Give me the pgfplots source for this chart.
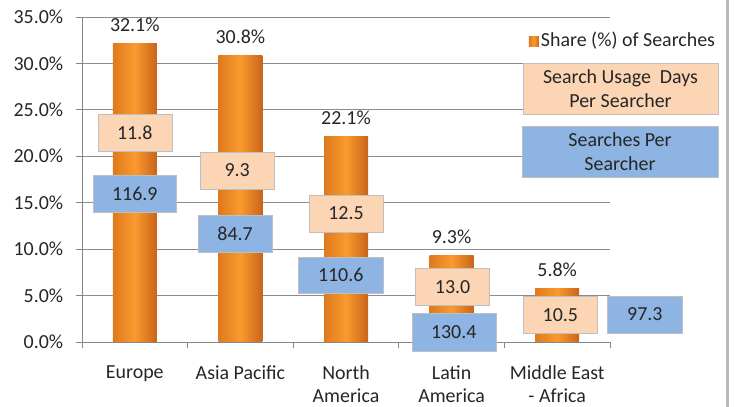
\documentclass[border=0pt]{standalone}
\usepackage{pgfplots}
\pgfplotsset{compat=1.18}
\usepackage{fontspec}
\setmainfont{Carlito}
\definecolor{axgray}{HTML}{868686}
\definecolor{gridgray}{HTML}{8C8C8C}
\definecolor{txt}{HTML}{262626}
\definecolor{peach}{HTML}{FCD5B5}
\definecolor{bluebox}{HTML}{8DB4E2}
\definecolor{boxedge}{HTML}{BFBFBF}
\definecolor{orL}{HTML}{DE7A1E}
\definecolor{orM}{HTML}{FA9A2E}
\definecolor{orR}{HTML}{C9641A}
\begin{document}
\fontsize{20}{24}\selectfont%
\begin{tikzpicture}
\path[use as bounding box] (0,0) rectangle (734bp,407bp);
\begin{axis}[
  at={(82bp,65bp)}, anchor=south west,
  scale only axis, width=528bp, height=325bp,
  xmin=-0.5, xmax=4.5, ymin=0, ymax=35,
  axis lines=left, axis line style={draw=axgray,-, line width=0.8bp},
  ytick={0,5,...,35},
  ymajorgrids, grid style={draw=gridgray, line width=0.8bp},
  yticklabel={\pgfmathprintnumber[fixed,fixed zerofill,precision=1]{\tick}\%},
  /pgf/number format/assume math mode=true,
  tick align=outside, major tick length=6bp, minor tick length=6bp,
  tick style={draw=axgray, line width=0.8bp},
  xtick={0,...,4},
  xticklabels={Europe, Asia Pacific, {North\\America}, {Latin\\America}, {Middle East\\- Africa}},
  major x tick style={draw=none},
  minor xtick={-0.5,0.5,...,4.5},
  xticklabel style={align=center, text=txt, yshift=-11bp, font=\fontsize{20}{23}\selectfont},
  yticklabel style={text=txt, xshift=-6bp},
  clip=false,
  ybar, bar width=44bp, bar shift=0pt,
  nodes near coords={\pgfmathprintnumber[fixed,fixed zerofill,precision=1]{\pgfplotspointmeta}\%},
  every node near coord/.append style={text=txt, yshift=5bp},
  legend style={at={(0.8405,0.926)}, anchor=west, draw=none, fill=none, text=txt},
  legend image code/.code={\fill[left color=orL,right color=orR, middle color=orM] (-9bp,-5bp) rectangle (1bp,5bp);},
]
\addplot[ybar, draw=none, left color=orL, right color=orR, middle color=orM]
  coordinates {(0,32.1)};
\addlegendentry{Share (\%) of Searches}
\addplot[ybar, draw=none, left color=orL, right color=orR, middle color=orM, forget plot]
  coordinates {(1,30.8)};
\addplot[ybar, draw=none, left color=orL, right color=orR, middle color=orM, forget plot]
  coordinates {(2,22.1)};
\addplot[ybar, draw=none, left color=orL, right color=orR, middle color=orM, forget plot]
  coordinates {(3,9.3)};
\addplot[ybar, draw=none, left color=orL, right color=orR, middle color=orM, forget plot]
  coordinates {(4,5.8)};
% Search usage days per searcher
\node[fill=peach, draw=boxedge, minimum width=74bp, minimum height=37bp, text=txt] at (axis cs:0,22.56) {11.8};
\node[fill=peach, draw=boxedge, minimum width=74bp, minimum height=37bp, text=txt] at (axis cs:0.97,18.47) {9.3};
\node[fill=peach, draw=boxedge, minimum width=74bp, minimum height=37bp, text=txt] at (axis cs:2.0,13.84) {12.5};
\node[fill=peach, draw=boxedge, minimum width=74bp, minimum height=37bp, text=txt] at (axis cs:3.01,5.92) {13.0};
\node[fill=peach, draw=boxedge, minimum width=74bp, minimum height=37bp, text=txt] at (axis cs:4.03,2.91) {10.5};
% Searches per searcher
\node[fill=bluebox, draw=boxedge, minimum width=83bp, minimum height=37bp, text=txt] at (axis cs:0,15.94) {116.9};
\node[fill=bluebox, draw=boxedge, minimum width=74bp, minimum height=37bp, text=txt] at (axis cs:0.95,11.68) {84.7};
\node[fill=bluebox, draw=boxedge, minimum width=85bp, minimum height=36bp, text=txt] at (axis cs:1.95,7.2) {110.6};
\node[fill=bluebox, draw=boxedge, minimum width=84bp, minimum height=38bp, text=txt] at (axis cs:3.02,1.02) {130.4};
\node[fill=bluebox, draw=boxedge, minimum width=75bp, minimum height=37bp, text=txt] at (axis cs:4.83,2.96) {97.3};
\end{axis}
\node[fill=peach, draw=boxedge, minimum width=195bp, minimum height=51bp, align=center, text=txt] at (620.5bp,318.5bp) {Search Usage\ \ Days\\Per Searcher};
\node[fill=bluebox, draw=boxedge, minimum width=196bp, minimum height=50bp, align=center, text=txt] at (620bp,255bp) {Searches Per\\Searcher};
\draw[line width=3bp, draw=gray!55] (727bp,0) -- (727bp,407bp);
\end{tikzpicture}
\end{document}
